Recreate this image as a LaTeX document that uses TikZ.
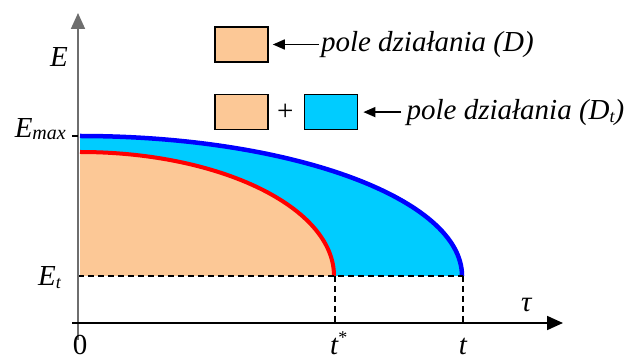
\documentclass[tikz,border=0pt]{standalone}
\usepackage{fontspec}
\setmainfont{Liberation Serif}
\usepackage{xcolor}
\definecolor{peach}{RGB}{252,200,150}
\definecolor{skyfill}{RGB}{0,204,255}
\definecolor{axisgray}{RGB}{110,110,110}
\usetikzlibrary{arrows.meta, positioning}

\begin{document}
\begin{tikzpicture}[
    x=1pt, y=1pt,
    lbl/.style={font=\fontsize{29}{34}\selectfont\itshape, inner sep=0pt},
    uplbl/.style={font=\fontsize{29}{34}\selectfont\upshape, inner sep=0pt},
    legbox/.style={
        rectangle, draw, line width=1.6pt,
        minimum width=53pt,
        minimum height=35pt,
        inner sep=0pt
    },
    arr/.style={-{Triangle[length=12pt, width=10pt]}, line width=1.6pt},
    axis/.style={-{Triangle[length=16pt, width=14pt]}, line width=1.8pt},
    guide/.style={dash pattern=on 6pt off 4pt, line width=1.4pt}
]
    \useasboundingbox (0,0) rectangle (628,361);

    % areas under the curves
    \fill[skyfill] (80,85) -- (80,225) arc[start angle=90, end angle=0, x radius=382, y radius=140] -- cycle;
    \fill[peach]   (80,85) -- (80,209) arc[start angle=90, end angle=0, x radius=254, y radius=124] -- cycle;

    % curves
    \draw[blue, line width=4.5pt] (80,225) arc[start angle=90, end angle=0, x radius=382, y radius=140];
    \draw[red,  line width=4pt]   (80,209) arc[start angle=90, end angle=0, x radius=254, y radius=124];

    % axes and guides
    \coordinate (ybot) at (78,21);
    \coordinate (ytop) at (78,348);
    \coordinate (xleft) at (72,38);
    \coordinate (xright) at (563,38);
    \coordinate (et0) at (78,85);
    \coordinate (ets) at (335,85);
    \coordinate (ete) at (463,85);
    \coordinate (xs) at (335,38);
    \coordinate (xe) at (463,38);
    \coordinate (tick0) at (72,225);
    \coordinate (tick1) at (78,225);

    \draw[guide] (et0) -- (ete);
    \draw[guide] (ets) -- (xs);
    \draw[guide] (ete) -- (xe);
    \draw[axis, axisgray] (ybot) -- (ytop);
    \draw[axis] (xleft) -- (xright);
    \draw[line width=1.4pt] (tick0) -- (tick1);

    % axis labels
    \node[lbl, anchor=base west] (ylab) at (50,294) {E};
    \node[lbl, anchor=base east] (emax) at (66,223) {E\raisebox{-2pt}{\fontsize{20}{20}\selectfont max}};
    \node[lbl, anchor=base east] (et) at (61,75) {E\raisebox{-3pt}{\fontsize{18}{18}\selectfont t}};
    \node[uplbl, anchor=base] (zero) at (80,7) {0};
    \node[lbl, anchor=base west] (tstar) at (330,7) {t\raisebox{11pt}{\fontsize{18}{18}\selectfont\upshape *}};
    \node[lbl, anchor=base] (tend) at (463,7) {t};
    \node[lbl, anchor=base west] (tau) at (521,49) {τ};

    % legend
    \node[legbox, fill=peach] (box1) at (241.5,316.5) {};
    \node[legbox, fill=peach, below=31pt of box1] (box2) {};
    \node[uplbl, right=8pt of box2] (plus) {+};
    \node[legbox, fill=skyfill, right=35pt of box2] (box3) {};
    \node[lbl, right=52pt of box1] (leg1) {pole działania (D)};
    \node[lbl, right=48pt of box3] (leg2) {pole działania (D\raisebox{-3pt}{\fontsize{18}{18}\selectfont t})};

    \draw[arr, shorten <=2pt, shorten >=4pt] (leg1) -- (box1);
    \draw[arr, shorten <=5pt, shorten >=5pt] (leg2) -- (box3);
\end{tikzpicture}
\end{document}
